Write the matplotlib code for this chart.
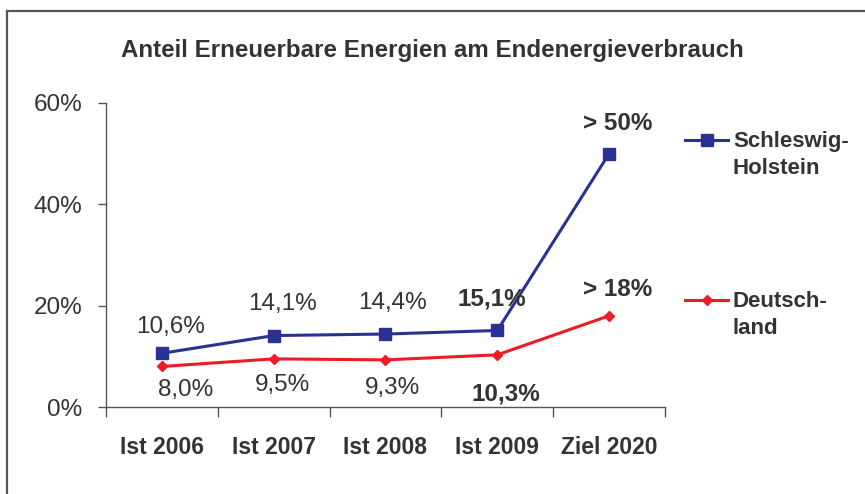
import matplotlib
matplotlib.use("Agg")
import matplotlib.pyplot as plt
from matplotlib.lines import Line2D
import numpy as np

categories = ["Ist 2006", "Ist 2007", "Ist 2008", "Ist 2009", "Ziel 2020"]
sh_values = [10.6, 14.1, 14.4, 15.1, 50.0]
de_values = [8.0, 9.5, 9.3, 10.3, 18.0]
sh_labels = ["10,6%", "14,1%", "14,4%", "15,1%", "> 50%"]
de_labels = ["8,0%", "9,5%", "9,3%", "10,3%", "> 18%"]
yticks = [0, 20, 40, 60]
ytick_labels = ["0%", "20%", "40%", "60%"]
title = "Anteil Erneuerbare Energien am Endenergieverbrauch"

plt.rcParams['font.family'] = ['Liberation Sans', 'DejaVu Sans']
txt = "#333333"
blue = "#2B3192"
red = "#ED1C24"

fig = plt.figure(figsize=(8.65, 4.94), dpi=100)
ax = fig.add_axes([106/865, 1-407/494, (665-106)/865, (407-103)/494])

x = np.arange(len(categories))
ax.plot(x, sh_values, color=blue, lw=2.2, marker='s', ms=9, zorder=3)
ax.plot(x, de_values, color=red, lw=2.2, marker='D', ms=5.5, zorder=3)

ax.set_xlim(-0.5, len(categories) - 0.5)
ax.set_ylim(0, 60)
ax.set_yticks(yticks)
ax.set_yticklabels(ytick_labels, fontsize=17.5, color=txt)
ax.tick_params(axis='y', length=6, width=1, color="#555555", pad=11)
ax.set_xticks(x)
ax.set_xticklabels(categories, fontsize=16.5, fontweight='bold', color=txt)
ax.tick_params(axis='x', which='major', length=0, pad=21)
ax.set_xticks(np.arange(len(categories) + 1) - 0.5, minor=True)
ax.tick_params(axis='x', which='minor', length=7, width=1, color="#555555", direction='out')
for s in ['top', 'right']:
    ax.spines[s].set_visible(False)
for s in ['left', 'bottom']:
    ax.spines[s].set_color("#555555")
    ax.spines[s].set_linewidth(1)

# data labels (offsets in points)
sh_off = [(6, 19), (6, 23), (5, 22), (-4, 23), (6, 22)]
sh_bold = [False, False, False, True, True]
for i, (v, lab) in enumerate(zip(sh_values, sh_labels)):
    ax.annotate(lab, (x[i], v), xytext=sh_off[i], textcoords='offset points',
                ha='center', va='center', fontsize=17.5,
                fontweight='bold' if sh_bold[i] else 'normal', color=txt)
de_off = [(17, -17), (6, -19), (5, -20), (6, -28), (6, 19)]
de_bold = [False, False, False, True, True]
for i, (v, lab) in enumerate(zip(de_values, de_labels)):
    ax.annotate(lab, (x[i], v), xytext=de_off[i], textcoords='offset points',
                ha='center', va='center', fontsize=17.5,
                fontweight='bold' if de_bold[i] else 'normal', color=txt)

fig.text(432/865, 1-51/494, title, ha='center', va='center', fontsize=17.4,
         fontweight='bold', color=txt)

# legend (manual)
for yy, col, mk, ms, lab in [(140, blue, 's', 9, "Schleswig-\nHolstein"),
                             (300, red, 'D', 5.5, "Deutsch-\nland")]:
    fy = 1 - yy/494
    fig.add_artist(Line2D([685/865, 728/865], [fy, fy], color=col, lw=2.2,
                          transform=fig.transFigure))
    fig.add_artist(Line2D([707/865], [fy], color=col, marker=mk, ms=ms,
                          transform=fig.transFigure))
    fig.text(733/865, fy + 9/494, lab, ha='left', va='top', fontsize=16,
             fontweight='bold', color=txt, linespacing=1.35)

# outer frame lines (top and left)
fig.add_artist(Line2D([7/865, 1.0], [1-11/494, 1-11/494], color="#555555", lw=1.6,
                      transform=fig.transFigure))
fig.add_artist(Line2D([7/865, 7/865], [0, 1-11/494], color="#555555", lw=1.6,
                      transform=fig.transFigure))

fig.savefig("out.png", dpi=100)
